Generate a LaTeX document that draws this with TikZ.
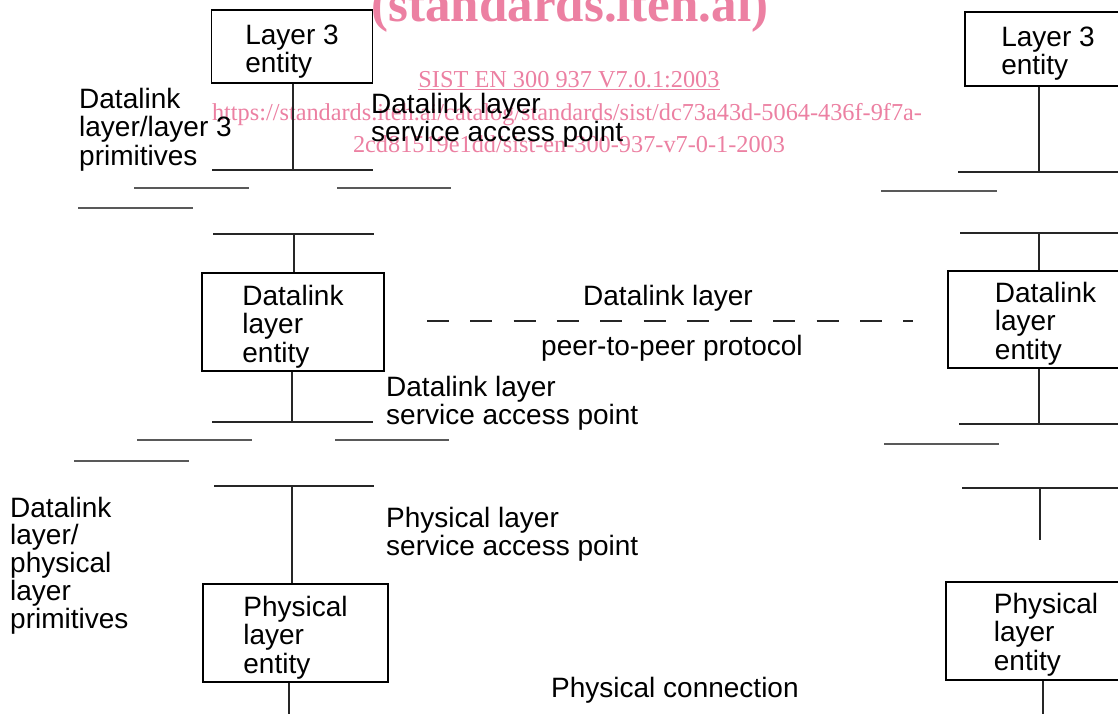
\documentclass[tikz,border=0pt]{standalone}
\usepackage{fontspec}
\newfontfamily\arialf{Liberation Sans}
\newfontfamily\timesf{Liberation Serif}
\newcommand\lf{\arialf\fontsize{28}{28.5}\selectfont}
\newcommand\ml[1]{\vtop{\let\\\cr\baselineskip=28.5pt\lineskiplimit=-30pt\lineskip=0pt\halign{##\hfil\cr#1\crcr}}}
\newcommand\bx[2]{\raisebox{#1}[0pt][0pt]{\ml{#2}}}
\definecolor{wmpink}{RGB}{236,128,162}
\tikzset{
  ebox/.style={draw=black, line width=1.2pt, inner sep=0pt, font=\lf, rectangle},
  lbl/.style={inner sep=0pt, anchor=base west, font=\lf},
  ln/.style={line width=1.3pt, draw=black!85},
  sl/.style={line width=1.6pt, draw=black!65},
  wm/.style={text=wmpink, inner sep=0pt, anchor=base, font=\timesf\fontsize{24.3}{25}\selectfont},
}
\begin{document}
\begin{tikzpicture}[x=1pt,y=-1pt]
\useasboundingbox (0,0) rectangle (1118,713);
\fill[white] (0,0) rectangle (1118,713);

% watermark
\node[wm, font=\timesf\bfseries\fontsize{51}{51}\selectfont] (w0) at (570,21) {(standards.iteh.ai)};
\node[wm] (w1) at (569,87) {\underline{SIST EN 300 937 V7.0.1:2003}};
\node[wm] (w2) at (567,120) {https://standards.iteh.ai/catalog/standards/sist/dc73a43d-5064-436f-9f7a-};
\node[wm] (w3) at (569,152) {2cd81519e1dd/sist-en-300-937-v7-0-1-2003};

% boxes
\node[ebox, minimum width=161pt, minimum height=73pt] (l3l) at (292,46.5) {\bx{2.5pt}{Layer 3\\entity}};
\node[ebox, minimum width=166pt, minimum height=74pt] (l3r) at (1048,49) {\bx{3pt}{Layer 3\\entity}};
\node[ebox, minimum width=182pt, minimum height=98pt] (dll) at (293,322) {\bx{17pt}{Datalink\\layer\\entity}};
\node[ebox, minimum width=195pt, minimum height=97pt] (dlr) at (1045.5,319.5) {\bx{17.5pt}{Datalink\\layer\\entity}};
\node[ebox, minimum width=185pt, minimum height=98pt] (phl) at (295.5,633) {\bx{17pt}{Physical\\layer\\entity}};
\node[ebox, minimum width=200pt, minimum height=98pt] (phr) at (1046,631) {\bx{18pt}{Physical\\layer\\entity}};

% labels
\node[lbl] (t1) at (79,108) {\ml{Datalink\\layer/layer 3\\primitives}};
\node[lbl] (t2) at (371,113) {\ml{Datalink layer\\service access point}};
\node[lbl] (t3) at (583,305) {Datalink layer};
\node[lbl] (t4) at (541,355) {peer-to-peer protocol};
\node[lbl] (t5) at (386,396) {\ml{Datalink layer\\service access point}};
\node[lbl] (t6) at (10,517) {\vtop{\let\\\cr\baselineskip=27.8pt\lineskiplimit=-30pt\halign{#\hfil\cr Datalink\\layer/\\physical\\layer\\primitives\crcr}}};
\node[lbl] (t7) at (386,527) {\ml{Physical layer\\service access point}};
\node[lbl] (t8) at (551,697) {Physical connection};

% left column
\coordinate (a1) at (212,170); \coordinate (a2) at (373,170); \coordinate (aj) at (293,170);
\draw[ln] (a1) -- (a2);
\draw[ln] (aj |- l3l.south) -- (aj);
\draw[sl] (134,188) -- (249,188);
\draw[sl] (337,188) -- (451,188);
\draw[sl] (78,208) -- (193,208);
\coordinate (b1) at (213,234); \coordinate (b2) at (374,234); \coordinate (bj) at (294,234);
\draw[ln] (b1) -- (b2);
\draw[ln] (bj) -- (bj |- dll.north);
\coordinate (c1) at (212,422); \coordinate (c2) at (373,422); \coordinate (cj) at (292,422);
\draw[ln] (c1) -- (c2);
\draw[ln] (cj |- dll.south) -- (cj);
\draw[sl] (137,440) -- (252,440);
\draw[sl] (335,440) -- (449,440);
\draw[sl] (74,461) -- (189,461);
\coordinate (d1) at (214,486); \coordinate (d2) at (374,486); \coordinate (dj) at (292,486);
\draw[ln] (d1) -- (d2);
\draw[ln] (dj) -- (dj |- phl.north);
\coordinate (e) at (289,716);
\draw[ln] (e |- phl.south) -- (e);

% right column
\coordinate (f1) at (958,172); \coordinate (f2) at (1125,172); \coordinate (fj) at (1039,172);
\draw[ln] (f1) -- (f2);
\draw[ln] (fj |- l3r.south) -- (fj);
\draw[sl] (881,191) -- (997,191);
\coordinate (g1) at (960,233); \coordinate (g2) at (1125,233); \coordinate (gj) at (1039,233);
\draw[ln] (g1) -- (g2);
\draw[ln] (gj) -- (gj |- dlr.north);
\coordinate (h1) at (959,424); \coordinate (h2) at (1125,424); \coordinate (hj) at (1039,424);
\draw[ln] (h1) -- (h2);
\draw[ln] (hj |- dlr.south) -- (hj);
\draw[sl] (884,444) -- (999,444);
\coordinate (i1) at (962,488); \coordinate (i2) at (1125,488); \coordinate (ij) at (1040,488);
\coordinate (iend) at (1040,540);
\draw[ln] (i1) -- (i2);
\draw[ln] (ij) -- (iend);
\coordinate (k) at (1043,716);
\draw[ln] (k |- phr.south) -- (k);

% peer-to-peer dashed line
\coordinate (p1) at (427,321); \coordinate (p2) at (913,321);
\draw[ln, dash pattern=on 22pt off 21.3pt] (p1) -- (p2);
\end{tikzpicture}
\end{document}
